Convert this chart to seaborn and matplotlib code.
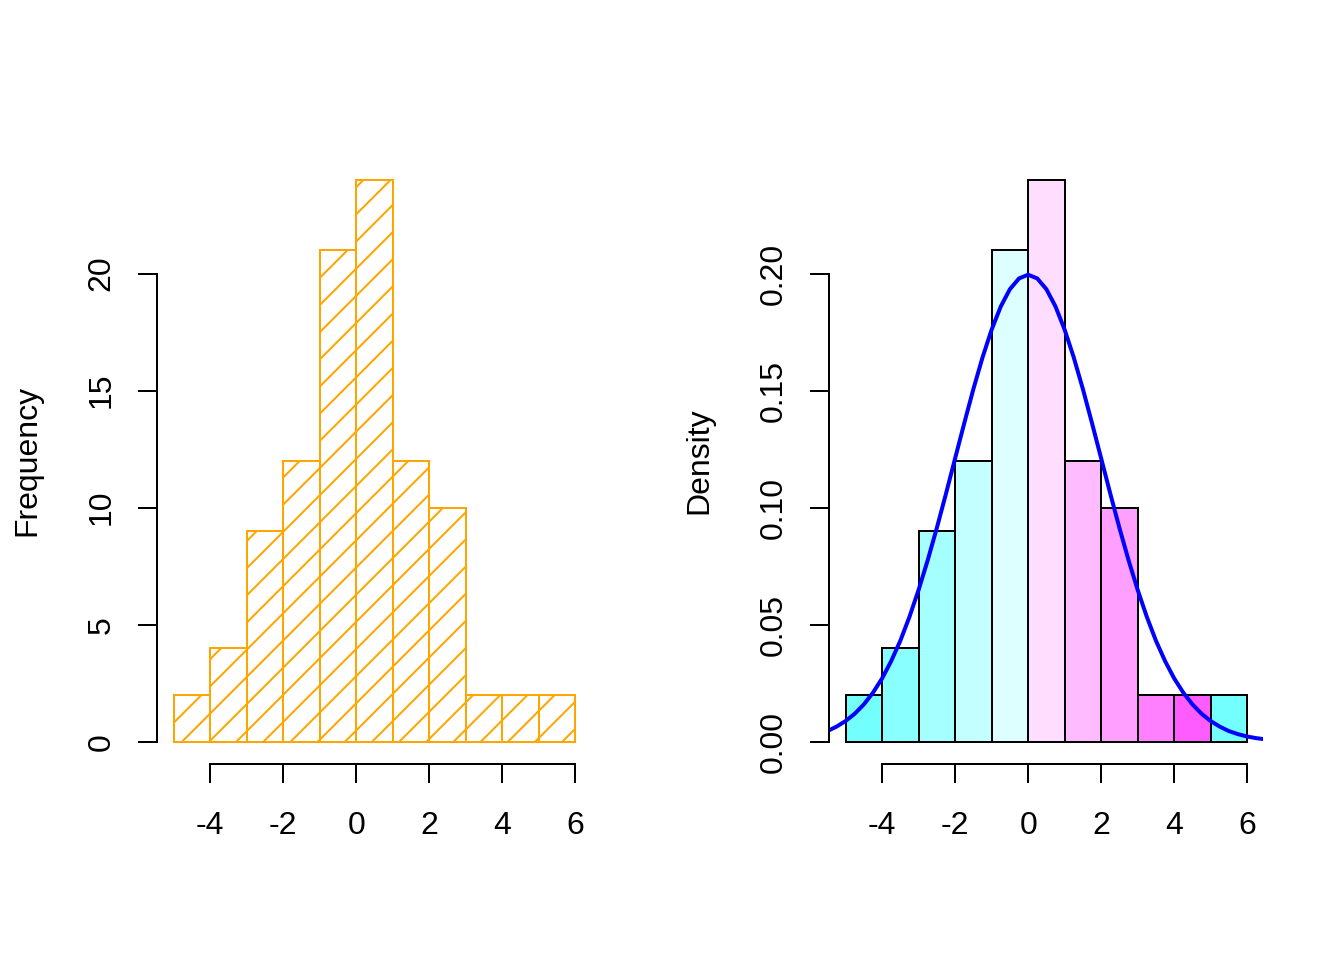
import numpy as np
import pandas as pd
import matplotlib
matplotlib.use("Agg")
import matplotlib.pyplot as plt
import seaborn as sns

# ---------------- data ----------------
bin_edges = [-5, -4, -3, -2, -1, 0, 1, 2, 3, 4, 5, 6]
bin_counts = [2, 4, 9, 12, 21, 24, 12, 10, 2, 2, 2]
bar_colors = ["#74FFFF", "#8AFFFF", "#A6FFFF", "#C4FFFF", "#DEFFFF",
              "#FFDDFF", "#FFBBFF", "#FF9FFF", "#FF80FF", "#FF5CFF", "#74FFFF"]

curve_x = [-5.5, -5.25, -5.0, -4.75, -4.5, -4.25, -4.0, -3.75, -3.5, -3.25,
           -3.0, -2.75, -2.5, -2.25, -2.0, -1.75, -1.5, -1.25, -1.0, -0.75,
           -0.5, -0.25, 0.0, 0.25, 0.5, 0.75, 1.0, 1.25, 1.5, 1.75,
           2.0, 2.25, 2.5, 2.75, 3.0, 3.25, 3.5, 3.75, 4.0, 4.25,
           4.5, 4.75, 5.0, 5.25, 5.5, 5.75, 6.0, 6.25, 6.5]
curve_y = [0.0045, 0.0064, 0.0088, 0.0119, 0.0159, 0.0209, 0.0270, 0.0344, 0.0431, 0.0533,
           0.0648, 0.0775, 0.0913, 0.1059, 0.1210, 0.1360, 0.1506, 0.1641, 0.1760, 0.1859,
           0.1933, 0.1979, 0.1995, 0.1979, 0.1933, 0.1859, 0.1760, 0.1641, 0.1506, 0.1360,
           0.1210, 0.1059, 0.0913, 0.0775, 0.0648, 0.0533, 0.0431, 0.0344, 0.0270, 0.0209,
           0.0159, 0.0119, 0.0088, 0.0064, 0.0045, 0.0032, 0.0022, 0.0015, 0.0010]

x_ticks = [-4, -2, 0, 2, 4, 6]
x_tick_labels = ["-4", "-2", "0", "2", "4", "6"]
freq_ticks = [0, 5, 10, 15, 20]
freq_tick_labels = ["0", "5", "10", "15", "20"]
dens_ticks = [0.00, 0.05, 0.10, 0.15, 0.20]
dens_tick_labels = ["0.00", "0.05", "0.10", "0.15", "0.20"]

# ---------------- style ----------------
DPI = 163
W, H = 1344, 960


def pt(px):
    return px * 72.0 / DPI


FS = pt(32)
ORANGE = "#FFA500"

sns.set_theme(style="white")
plt.rcParams["font.family"] = ["Liberation Sans", "DejaVu Sans"]
plt.rcParams["hatch.linewidth"] = pt(2)
plt.rcParams["hatch.color"] = ORANGE

fig = plt.figure(figsize=(W / DPI, H / DPI), dpi=DPI)
fig.patch.set_facecolor("white")

L = 38.4
plot_w = (W / 2) - (4.1 + 2.1) * L
plot_h = H - (5.1 + 4.1) * L
ax1 = fig.add_axes([4.1 * L / W, 5.1 * L / H, plot_w / W, plot_h / H])
ax2 = fig.add_axes([(W / 2 + 4.1 * L) / W, 5.1 * L / H, plot_w / W, plot_h / H])

centers = [(a + b) / 2 for a, b in zip(bin_edges[:-1], bin_edges[1:])]
df = pd.DataFrame({"value": centers, "count": bin_counts})

# left: hatched frequency histogram
sns.histplot(data=df, x="value", weights="count", bins=bin_edges, stat="count",
             fill=False, color=ORANGE, edgecolor=ORANGE, hatch="//",
             linewidth=pt(2), ax=ax1)

# right: density histogram with coloured bars and normal curve
sns.histplot(data=df, x="value", weights="count", bins=bin_edges, stat="density",
             fill=True, edgecolor="black", linewidth=pt(2), alpha=1, ax=ax2)
for patch, c in zip(ax2.patches, bar_colors):
    patch.set_facecolor(c)
    patch.set_alpha(1)
sns.lineplot(x=curve_x, y=curve_y, color="#0000FF", linewidth=pt(4), ax=ax2,
             sort=True, estimator=None)


def style(ax, ylim, yticks, ylabels, ylab):
    ax.set_facecolor("white")
    ax.grid(False)
    ax.set_xlim(-5.44, 6.44)
    ax.set_ylim(*ylim)
    ax.set_xticks(x_ticks)
    ax.set_xticklabels(x_tick_labels)
    ax.set_yticks(yticks)
    ax.set_yticklabels(ylabels)
    for s in ["top", "right"]:
        ax.spines[s].set_visible(False)
    for s in ["left", "bottom"]:
        ax.spines[s].set_color("black")
        ax.spines[s].set_linewidth(pt(2))
    ax.spines["left"].set_bounds(yticks[0], yticks[-1])
    ax.spines["bottom"].set_bounds(x_ticks[0], x_ticks[-1])
    ax.tick_params(direction="out", length=pt(19.2), width=pt(2), color="black",
                   labelsize=FS, labelcolor="black", left=True, bottom=True)
    ax.tick_params(axis="x", pad=pt(28))
    ax.tick_params(axis="y", pad=pt(21.4))
    for lab in ax.get_yticklabels():
        lab.set_rotation(90)
        lab.set_va("center")
        lab.set_ha("right")
    ax.set_xlabel("")
    ax.set_ylabel(ylab, fontsize=FS, color="black")
    ax.yaxis.set_label_coords(-3 * L / plot_w, 0.5)


style(ax1, (-0.96, 24.96), freq_ticks, freq_tick_labels, "Frequency")
style(ax2, (-0.0096, 0.2496), dens_ticks, dens_tick_labels, "Density")

fig.savefig("out.png", dpi=DPI, facecolor="white")
